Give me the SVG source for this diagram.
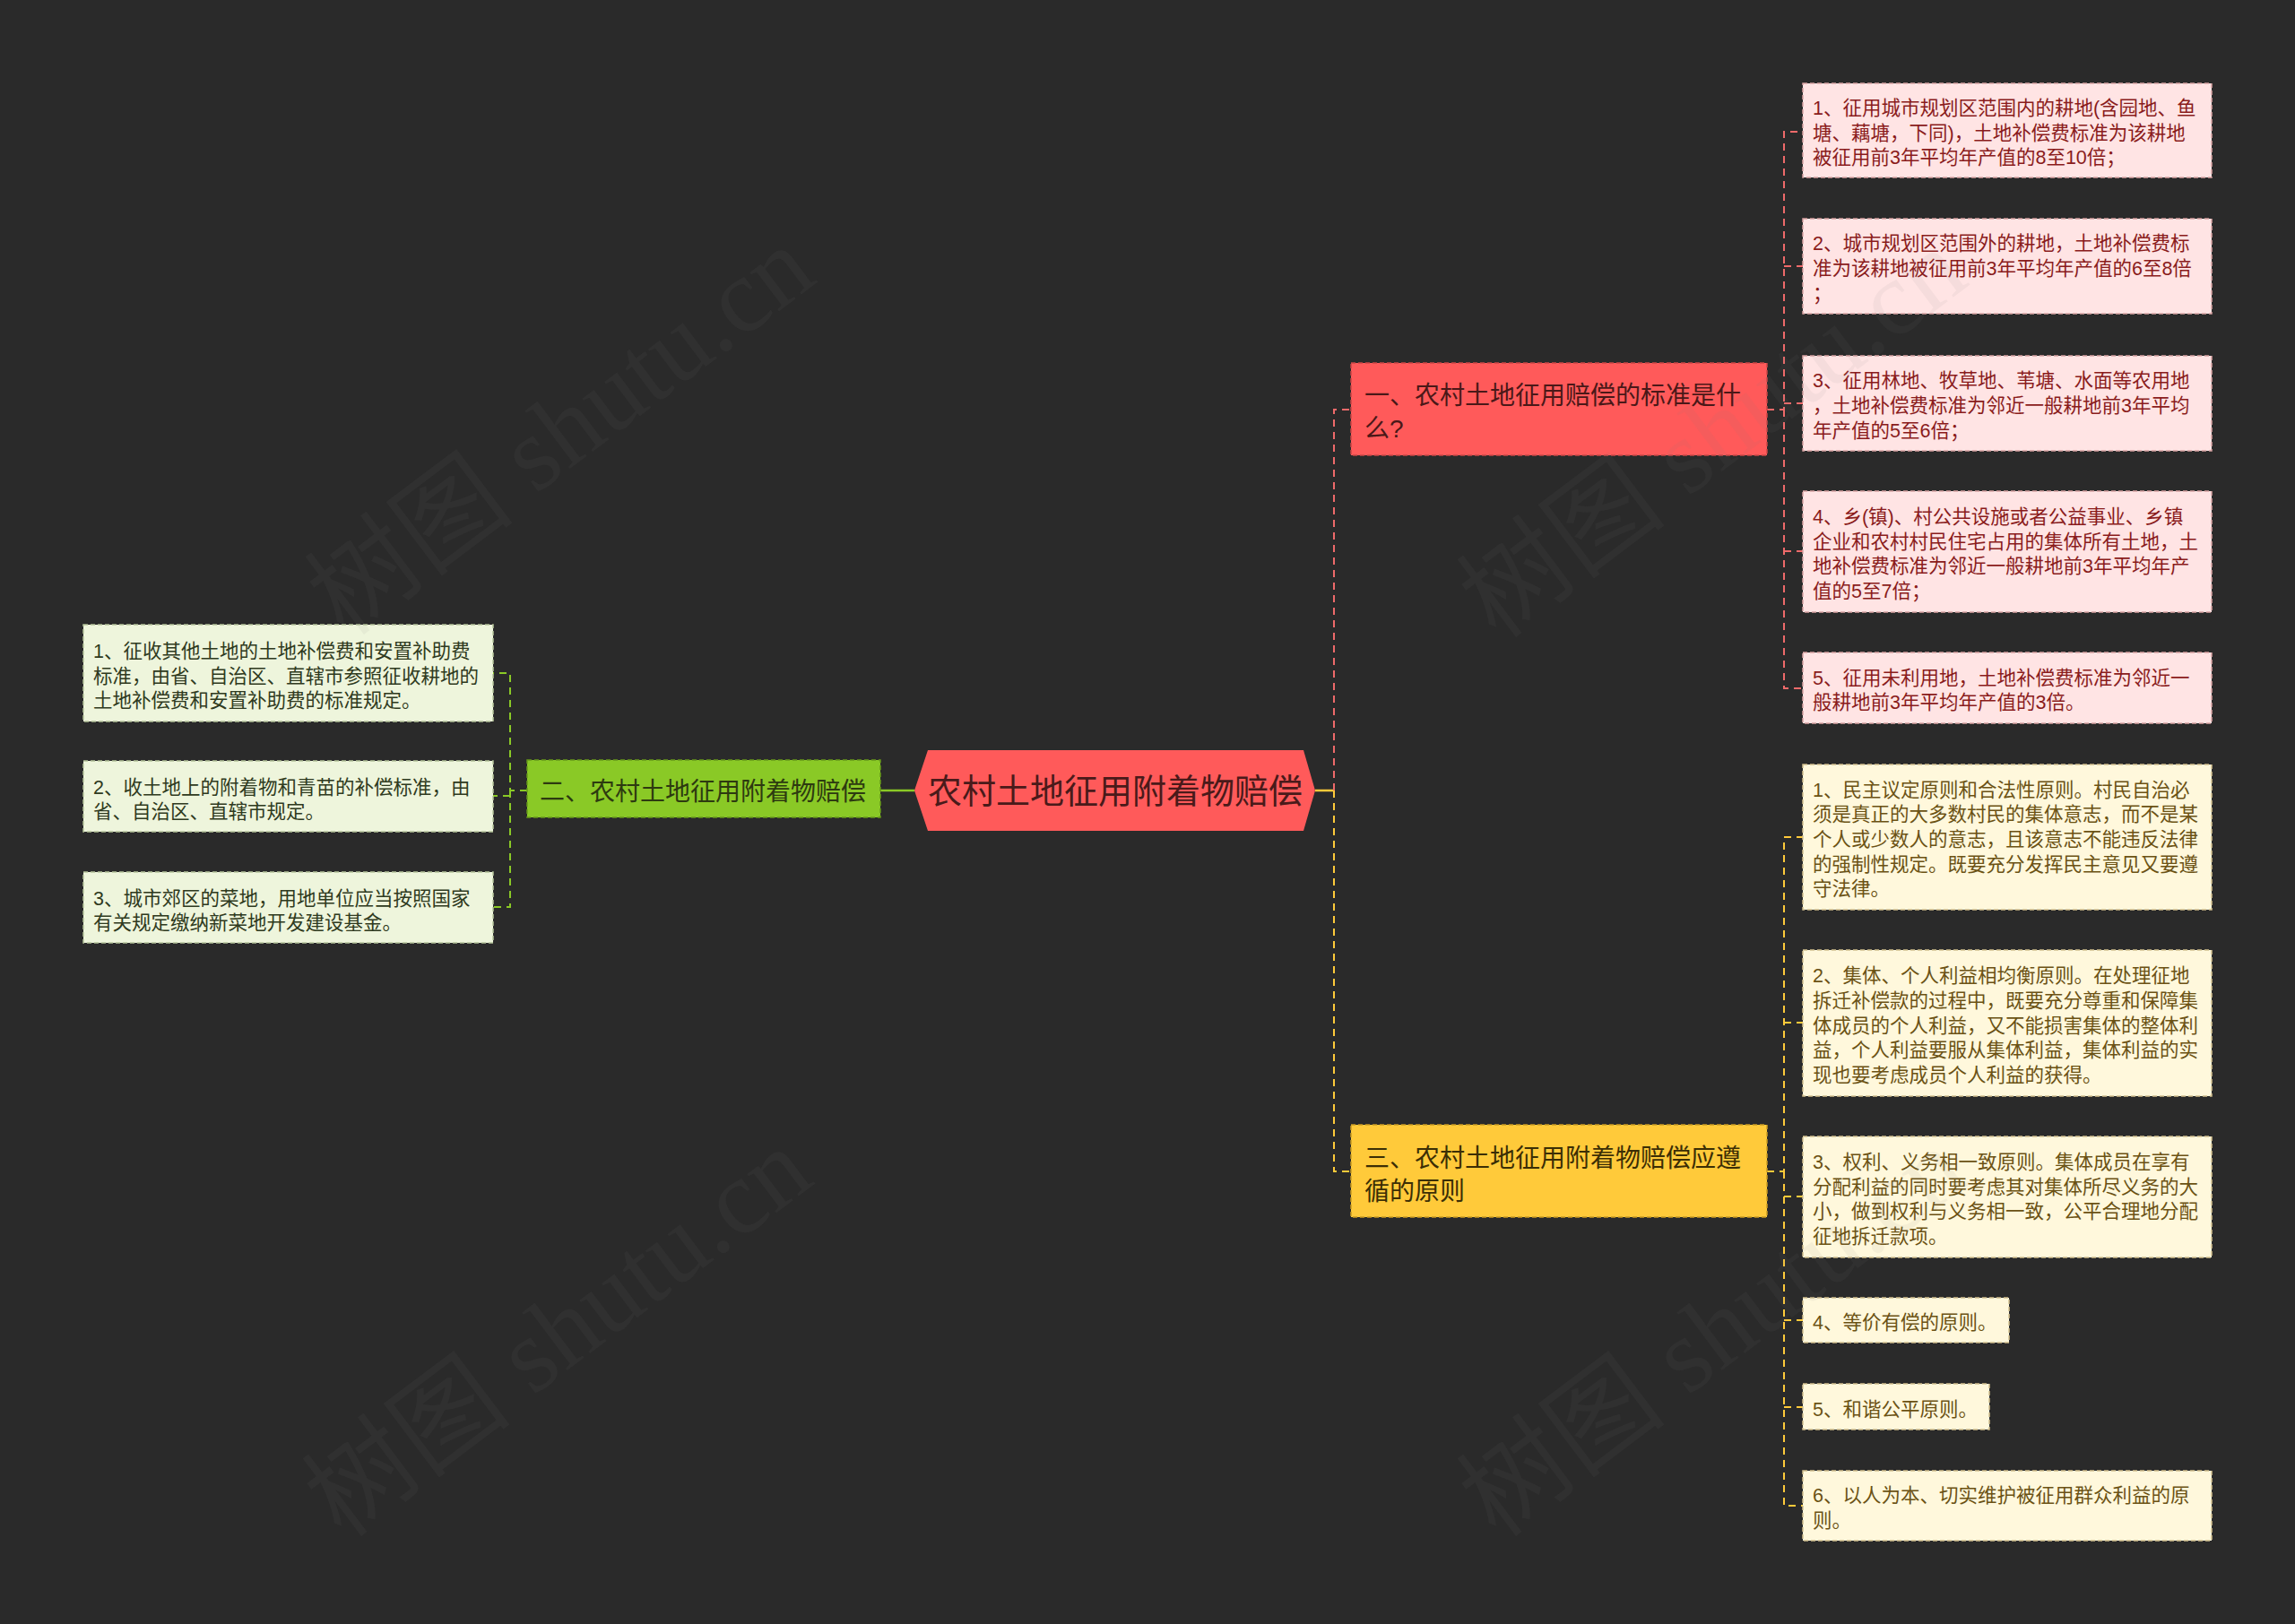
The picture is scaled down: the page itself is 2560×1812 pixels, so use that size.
<svg xmlns="http://www.w3.org/2000/svg" width="2560" height="1812" viewBox="0 0 2560 1812">
<style>
text{font-family:"Liberation Sans","Noto Sans CJK SC",sans-serif;}
.lf{font-size:21.5px;}
.mn{font-size:28px;}
.pinkbox{fill:#ffe4e4;stroke:#d7a3a3;stroke-width:1.5;stroke-dasharray:5 3;}
.greenbox{fill:#eef5dc;stroke:#b5c49a;stroke-width:1.5;stroke-dasharray:5 3;}
.yellowbox{fill:#fff8dc;stroke:#d2c08e;stroke-width:1.5;stroke-dasharray:5 3;}
.pt{fill:#8a1c1c;}
.gt{fill:#2f3a20;}
.yt{fill:#6b5214;}
.cr{fill:none;stroke:#ee6a6a;stroke-width:2;stroke-dasharray:8 6;}
.cg{fill:none;stroke:#8ac926;stroke-width:2;stroke-dasharray:8 6;}
.cy{fill:none;stroke:#ffca3a;stroke-width:2;stroke-dasharray:8 6;}
.wm{font-family:"Liberation Serif","Noto Sans CJK SC",serif;font-size:118px;fill:#808080;fill-opacity:0.08;}
</style>
<rect x="0" y="0" width="2560" height="1812" fill="#2a2a2a"/>

<g id="connectors">
  <line x1="982" y1="882" x2="1020" y2="882" stroke="#8ac926" stroke-width="2.5"/>
  <line x1="1467" y1="882" x2="1488" y2="882" stroke="#ffca3a" stroke-width="2.5"/>
  <path class="cr" d="M1488 882 V457 H1507"/>
  <path class="cy" d="M1488 882 V1307 H1507"/>
  <path class="cg" d="M588 882 H569 V751 H550"/>
  <path class="cg" d="M569 888 H550"/>
  <path class="cg" d="M569 882 V1012 H550"/>
  <path class="cr" d="M1971 457 H1990 V147 H2011"/>
  <path class="cr" d="M1990 297 H2011"/>
  <path class="cr" d="M1990 450 H2011"/>
  <path class="cr" d="M1990 457 V768 H2011"/>
  <path class="cr" d="M1990 615 H2011"/>
  <path class="cy" d="M1971 1307 H1990 V934 H2011"/>
  <path class="cy" d="M1990 1141 H2011"/>
  <path class="cy" d="M1990 1307 V1680 H2011"/>
  <path class="cy" d="M1990 1335 H2011"/>
  <path class="cy" d="M1990 1473 H2011"/>
  <path class="cy" d="M1990 1570 H2011"/>
</g>

<g id="root">
  <polygon points="1020,882 1035,837 1454,837 1467,882 1454,927 1035,927" fill="#ff5a5a"/>
  <text x="1244" y="896" text-anchor="middle" font-size="38" fill="#4a1a1a">农村土地征用附着物赔偿</text>
</g>

<g id="n1">
  <rect x="1507" y="405" width="464" height="103" fill="#ff5a5a" stroke="#c94646" stroke-width="1.5" stroke-dasharray="5 3"/>
  <text class="mn" fill="#4a1818"><tspan x="1522" y="451">一、农村土地征用赔偿的标准是什</tspan><tspan x="1522" y="488">么?</tspan></text>
</g>

<g id="n2">
  <rect x="588" y="848" width="394" height="64" fill="#8ac926" stroke="#679a1a" stroke-width="1.5" stroke-dasharray="5 3"/>
  <text class="mn" x="602" y="893" fill="#2d3a10">二、农村土地征用附着物赔偿</text>
</g>

<g id="n3">
  <rect x="1507" y="1255" width="464" height="103" fill="#ffca3a" stroke="#c99a22" stroke-width="1.5" stroke-dasharray="5 3"/>
  <text class="mn" fill="#3b2e05"><tspan x="1522" y="1302">三、农村土地征用附着物赔偿应遵</tspan><tspan x="1522" y="1339">循的原则</tspan></text>
</g>

<g id="p1">
  <rect class="pinkbox" x="2011" y="93" width="456" height="105"/>
  <text class="lf pt"><tspan x="2022" y="128">1、征用城市规划区范围内的耕地(含园地、鱼</tspan><tspan x="2022" y="155.5">塘、藕塘，下同)，土地补偿费标准为该耕地</tspan><tspan x="2022" y="183">被征用前3年平均年产值的8至10倍；</tspan></text>
</g>
<g id="p2">
  <rect class="pinkbox" x="2011" y="244" width="456" height="106"/>
  <text class="lf pt"><tspan x="2022" y="279.4">2、城市规划区范围外的耕地，土地补偿费标</tspan><tspan x="2022" y="307">准为该耕地被征用前3年平均年产值的6至8倍</tspan><tspan x="2022" y="334.6">；</tspan></text>
</g>
<g id="p3">
  <rect class="pinkbox" x="2011" y="397" width="456" height="106"/>
  <text class="lf pt"><tspan x="2022" y="432.4">3、征用林地、牧草地、苇塘、水面等农用地</tspan><tspan x="2022" y="460">，土地补偿费标准为邻近一般耕地前3年平均</tspan><tspan x="2022" y="487.6">年产值的5至6倍；</tspan></text>
</g>
<g id="p4">
  <rect class="pinkbox" x="2011" y="548" width="456" height="135"/>
  <text class="lf pt"><tspan x="2022" y="584.1">4、乡(镇)、村公共设施或者公益事业、乡镇</tspan><tspan x="2022" y="611.7">企业和农村村民住宅占用的集体所有土地，土</tspan><tspan x="2022" y="639.3">地补偿费标准为邻近一般耕地前3年平均年产</tspan><tspan x="2022" y="666.9">值的5至7倍；</tspan></text>
</g>
<g id="p5">
  <rect class="pinkbox" x="2011" y="728" width="456" height="79"/>
  <text class="lf pt"><tspan x="2022" y="763.7">5、征用未利用地，土地补偿费标准为邻近一</tspan><tspan x="2022" y="791.3">般耕地前3年平均年产值的3倍。</tspan></text>
</g>

<g id="g1">
  <rect class="greenbox" x="93" y="697" width="457" height="108"/>
  <text class="lf gt"><tspan x="104" y="734">1、征收其他土地的土地补偿费和安置补助费</tspan><tspan x="104" y="761.6">标准，由省、自治区、直辖市参照征收耕地的</tspan><tspan x="104" y="789.2">土地补偿费和安置补助费的标准规定。</tspan></text>
</g>
<g id="g2">
  <rect class="greenbox" x="93" y="849" width="457" height="79"/>
  <text class="lf gt"><tspan x="104" y="885.5">2、收土地上的附着物和青苗的补偿标准，由</tspan><tspan x="104" y="913.1">省、自治区、直辖市规定。</tspan></text>
</g>
<g id="g3">
  <rect class="greenbox" x="93" y="973" width="457" height="79"/>
  <text class="lf gt"><tspan x="104" y="1009.5">3、城市郊区的菜地，用地单位应当按照国家</tspan><tspan x="104" y="1037.1">有关规定缴纳新菜地开发建设基金。</tspan></text>
</g>

<g id="y1">
  <rect class="yellowbox" x="2011" y="853" width="456" height="162"/>
  <text class="lf yt"><tspan x="2022" y="888.8">1、民主议定原则和合法性原则。村民自治必</tspan><tspan x="2022" y="916.4">须是真正的大多数村民的集体意志，而不是某</tspan><tspan x="2022" y="944">个人或少数人的意志，且该意志不能违反法律</tspan><tspan x="2022" y="971.6">的强制性规定。既要充分发挥民主意见又要遵</tspan><tspan x="2022" y="999.2">守法律。</tspan></text>
</g>
<g id="y2">
  <rect class="yellowbox" x="2011" y="1060" width="456" height="163"/>
  <text class="lf yt"><tspan x="2022" y="1096.3">2、集体、个人利益相均衡原则。在处理征地</tspan><tspan x="2022" y="1123.9">拆迁补偿款的过程中，既要充分尊重和保障集</tspan><tspan x="2022" y="1151.5">体成员的个人利益，又不能损害集体的整体利</tspan><tspan x="2022" y="1179.1">益，个人利益要服从集体利益，集体利益的实</tspan><tspan x="2022" y="1206.7">现也要考虑成员个人利益的获得。</tspan></text>
</g>
<g id="y3">
  <rect class="yellowbox" x="2011" y="1268" width="456" height="135"/>
  <text class="lf yt"><tspan x="2022" y="1304.1">3、权利、义务相一致原则。集体成员在享有</tspan><tspan x="2022" y="1331.7">分配利益的同时要考虑其对集体所尽义务的大</tspan><tspan x="2022" y="1359.3">小，做到权利与义务相一致，公平合理地分配</tspan><tspan x="2022" y="1386.9">征地拆迁款项。</tspan></text>
</g>
<g id="y4">
  <rect class="yellowbox" x="2011" y="1448" width="230" height="50"/>
  <text class="lf yt" x="2022" y="1483">4、等价有偿的原则。</text>
</g>
<g id="y5">
  <rect class="yellowbox" x="2011" y="1544" width="208" height="51"/>
  <text class="lf yt" x="2022" y="1579.5">5、和谐公平原则。</text>
</g>
<g id="y6">
  <rect class="yellowbox" x="2011" y="1641" width="456" height="78"/>
  <text class="lf yt"><tspan x="2022" y="1676.2">6、以人为本、切实维护被征用群众利益的原</tspan><tspan x="2022" y="1703.8">则。</tspan></text>
</g>

<g id="watermarks">
  <text class="wm" transform="translate(385,712) rotate(-37)">树图 shutu.cn</text>
  <text class="wm" transform="translate(382,1718) rotate(-37)">树图 shutu.cn</text>
  <text class="wm" transform="translate(1670,715) rotate(-37)">树图 shutu.cn</text>
  <text class="wm" transform="translate(1670,1718) rotate(-37)">树图 shutu.cn</text>
</g>
</svg>
